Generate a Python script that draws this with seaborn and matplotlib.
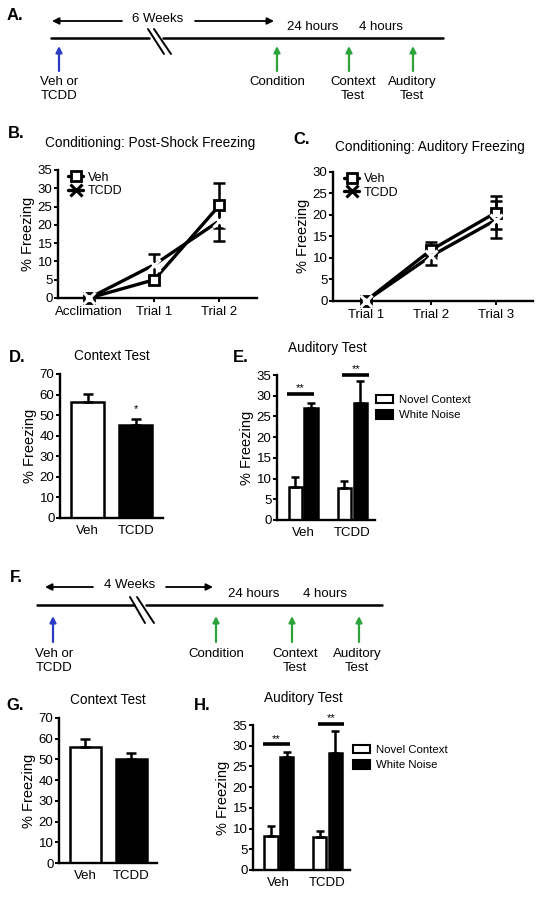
import matplotlib
matplotlib.use('Agg')
import matplotlib.pyplot as plt
from matplotlib.lines import Line2D
from matplotlib.patches import Patch
import seaborn as sns
import pandas as pd

W, H = 543, 900

# data
groups = ['Veh', 'TCDD']
contexts = ['Novel Context', 'White Noise']

shock_x = ['Acclimation', 'Trial 1', 'Trial 2']
shock_veh = [0.0, 5.0, 25.3]
shock_veh_err = [0.0, 0.8, 6.2]
shock_tcdd = [0.0, 9.1, 21.1]
shock_tcdd_err = [0.0, 3.0, 5.4]

tone_x = ['Trial 1', 'Trial 2', 'Trial 3']
tone_veh = [0.0, 11.8, 20.5]
tone_veh_err = [0.0, 1.9, 3.9]
tone_tcdd = [0.0, 10.4, 18.8]
tone_tcdd_err = [0.0, 2.1, 4.3]

context6 = [56.3, 45.3]
context6_err = [4.0, 3.0]
novel6 = [8.0, 7.8]
novel6_err = [2.5, 1.6]
noise6 = [27.1, 28.2]
noise6_err = [1.2, 5.3]

context4 = [56.2, 50.3]
context4_err = [3.9, 3.0]
novel4 = [8.1, 8.0]
novel4_err = [2.5, 1.5]
noise4 = [27.2, 28.2]
noise4_err = [1.2, 5.4]

event_labels = ['Veh or\nTCDD', 'Condition', 'Context\nTest', 'Auditory\nTest']

BLUE = '#2b3cc4'
GREEN = '#2ea33a'

sns.set_style('ticks', {'axes.edgecolor': 'black', 'xtick.color': 'black',
                        'ytick.color': 'black', 'text.color': 'black',
                        'axes.labelcolor': 'black'})
plt.rcParams['font.family'] = ['Liberation Sans', 'DejaVu Sans']

fig = plt.figure(figsize=(W / 100, H / 100), dpi=100)


def fx(x):
    return x / W


def fy(y):
    return 1 - y / H


def axes_px(x0, y0, x1, y1):
    return fig.add_axes([x0 / W, 1 - y1 / H, (x1 - x0) / W, (y1 - y0) / H])


def style(ax, ymax, step, xticks=True):
    ax.set_ylim(0, ymax)
    ax.set_yticks(range(0, ymax + 1, step))
    sns.despine(ax=ax)
    for s in ('left', 'bottom'):
        ax.spines[s].set_linewidth(1.7)
    ax.tick_params(axis='y', length=3, width=1.4, labelsize=9.5, pad=1)
    ax.tick_params(axis='x', length=3 if xticks else 0, width=1.4, labelsize=9.5,
                   pad=3 if xticks else 5)
    ax.set_ylabel('% Freezing', fontsize=10.5, labelpad=2)
    ax.set_xlabel('')


def line_panel(ax, cats, veh, veh_err, tcdd, tcdd_err):
    sns.lineplot(x=cats, y=veh, color='black', lw=2.4, marker='s', ms=7.5,
                 mfc='white', mec='black', mew=2, sort=False, errorbar=None,
                 clip_on=False, zorder=4, ax=ax)
    sns.lineplot(x=cats, y=tcdd, color='black', lw=2.4, marker='x', ms=8,
                 mew=2.2, sort=False, errorbar=None, clip_on=False, zorder=4, ax=ax)
    for vals, errs in ((veh, veh_err), (tcdd, tcdd_err)):
        ax.errorbar(cats, vals, yerr=errs, fmt='none', ecolor='black',
                    elinewidth=1.8, capsize=4, capthick=1.8, zorder=3)
    handles = [Line2D([], [], color='black', lw=2.4, marker='s', ms=7.5,
                      mfc='white', mec='black', mew=2),
               Line2D([], [], color='black', lw=2.4, marker='x', ms=8, mew=2.2)]
    return handles


def context_panel(ax, vals, errs):
    sns.barplot(x=groups, y=vals, hue=groups, palette=['white', 'black'],
                edgecolor='black', linewidth=1.8, width=0.68, legend=False, ax=ax)
    xs = [p.get_x() + p.get_width() / 2 for p in ax.patches]
    ax.errorbar(xs, vals, yerr=[[0] * len(errs), errs], fmt='none', ecolor='black',
                elinewidth=1.8, capsize=3.5, capthick=1.8, zorder=3)
    ax.set_xlim(-0.57, 1.56)
    return xs


def auditory_panel(ax, novel, novel_err, noise, noise_err, sig_y):
    df = pd.DataFrame({'group': groups * 2,
                       'context': [contexts[0]] * 2 + [contexts[1]] * 2,
                       'freezing': novel + noise})
    sns.barplot(data=df, x='group', y='freezing', hue='context', hue_order=contexts,
                palette=['white', 'black'], edgecolor='black', linewidth=1.8,
                width=0.64, gap=0.15, errorbar=None, legend=False, ax=ax)
    for cont, err in zip(ax.containers, (novel_err, noise_err)):
        xs = [b.get_x() + b.get_width() / 2 for b in cont]
        ys = [b.get_height() for b in cont]
        ax.errorbar(xs, ys, yerr=[[0] * len(err), err], fmt='none', ecolor='black',
                    elinewidth=1.8, capsize=3, capthick=1.8, zorder=3)
    for i, (y, off) in enumerate(zip(sig_y, (-0.05, 0.07))):
        ax.plot([i + off - 0.27, i + off + 0.27], [y, y], color='black', lw=2.6,
                clip_on=False, solid_capstyle='butt')
        ax.text(i + off, y + 0.2, '**', ha='center', va='bottom', fontsize=8)
    ax.set_xlim(-0.53, 1.46)
    handles = [Patch(facecolor='white', edgecolor='black', lw=1.5),
               Patch(facecolor='black', edgecolor='black', lw=1.5)]
    return handles


def timeline(ax, y, x0, x1, gap, brk, weeks, weeks_xy, left_arrow, right_arrow,
             hours_x, hours_y, arrow_xs, arrow_y, label_xs, label_y):
    ax.plot([x0, gap[0]], [y, y], color='black', lw=1.8)
    ax.plot([gap[1], x1], [y, y], color='black', lw=1.8)
    for (a, b), (c, d) in brk:
        ax.plot([a, c], [b, d], color='black', lw=1.4)
    ax.text(weeks_xy[0], weeks_xy[1], weeks, ha='center', va='center', fontsize=9.5)
    for (xa, xb) in (left_arrow, right_arrow):
        ax.annotate('', xy=(xb, weeks_xy[1] + 2), xytext=(xa, weeks_xy[1] + 2),
                    arrowprops=dict(arrowstyle='-|>', color='black', lw=1.3,
                                    mutation_scale=10, shrinkA=0, shrinkB=0))
    for hx, txt in zip(hours_x, ['24 hours', '4 hours']):
        ax.text(hx, hours_y, txt, ha='center', va='center', fontsize=9.5)
    for i, ax_x in enumerate(arrow_xs):
        ax.annotate('', xy=(ax_x, arrow_y[1]), xytext=(ax_x, arrow_y[0]),
                    arrowprops=dict(arrowstyle='-|>', color=BLUE if i == 0 else GREEN,
                                    lw=1.6, mutation_scale=9, shrinkA=0, shrinkB=0))
    for lx, lab in zip(label_xs, event_labels):
        ax.text(lx, label_y, lab, ha='center', va='top', fontsize=9.5, linespacing=1.25)


# overlay for diagrams
ov = fig.add_axes([0, 0, 1, 1], zorder=-1)
ov.set_xlim(0, W)
ov.set_ylim(H, 0)
ov.axis('off')

timeline(ov, 37.7, 51, 443, (149, 163),
         [((148, 29), (164, 54)), ((154, 29), (171, 54))],
         '6 Weeks', (158, 19), (122, 52), (195, 274),
         (313, 381), 27, [59, 277, 349, 413], (71, 46),
         [59, 277, 353, 412], 76)
timeline(ov, 605, 37, 382, (134, 146),
         [((130, 597), (145, 623)), ((137, 597), (154, 623))],
         '4 Weeks', (130, 585), (93, 45), (166, 213),
         (254, 325), 594, [53, 216, 292, 359], (642, 616),
         [54, 216, 295, 357], 648)

letters = [('A.', 15, 16), ('B.', 16, 133), ('C.', 302, 140), ('D.', 17, 357),
           ('E.', 241, 357), ('F.', 16, 577), ('G.', 15, 705), ('H.', 202, 705)]
for t, x, y in letters:
    fig.text(fx(x), fy(y), t, ha='center', va='center', fontsize=12, fontweight='bold')

titles = [('Conditioning: Post-Shock Freezing', 150, 143),
          ('Conditioning: Auditory Freezing', 430, 147),
          ('Context Test', 112, 356), ('Auditory Test', 327, 348),
          ('Context Test', 108, 700), ('Auditory Test', 303, 698)]
for t, x, y in titles:
    fig.text(fx(x), fy(y), t, ha='center', va='center', fontsize=9.8)

# B
axB = axes_px(58, 170, 257, 298)
hB = line_panel(axB, shock_x, shock_veh, shock_veh_err, shock_tcdd, shock_tcdd_err)
style(axB, 35, 5)
axB.set_xlim(-0.48, 2.58)
axB.legend(hB, groups, loc='center left', bbox_to_anchor=(fx(68), fy(184.5)),
           bbox_transform=fig.transFigure, frameon=False, fontsize=9,
           handlelength=1.2, handletextpad=0.4, labelspacing=0.15,
           borderpad=0, borderaxespad=0, numpoints=1)

# C
axC = axes_px(333, 171.7, 533, 300.7)
hC = line_panel(axC, tone_x, tone_veh, tone_veh_err, tone_tcdd, tone_tcdd_err)
style(axC, 30, 5)
axC.set_xlim(-0.51, 2.57)
axC.legend(hC, groups, loc='center left', bbox_to_anchor=(fx(344), fy(186)),
           bbox_transform=fig.transFigure, frameon=False, fontsize=9,
           handlelength=1.2, handletextpad=0.4, labelspacing=0.1,
           borderpad=0, borderaxespad=0, numpoints=1)

# D
axD = axes_px(60, 374, 163, 518)
xsD = context_panel(axD, context6, context6_err)
style(axD, 70, 10, xticks=False)
axD.text(xsD[1], 50.5, '*', ha='center', va='bottom', fontsize=8)

# E
axE = axes_px(277, 375, 375, 520)
hE = auditory_panel(axE, novel6, novel6_err, noise6, noise6_err, [30.4, 35.0])
style(axE, 35, 5, xticks=False)
axE.legend(hE, contexts, loc='center left', bbox_to_anchor=(fx(376), fy(407.5)),
           bbox_transform=fig.transFigure, frameon=False, fontsize=8.2,
           handlelength=1.5, handleheight=0.8, handletextpad=0.5,
           labelspacing=0.45, borderpad=0, borderaxespad=0)

# G
axG = axes_px(59, 718, 157, 863)
context_panel(axG, context4, context4_err)
style(axG, 70, 10, xticks=False)

# H
axH = axes_px(253, 725, 350, 870)
hH = auditory_panel(axH, novel4, novel4_err, noise4, noise4_err, [30.3, 35.2])
style(axH, 35, 5, xticks=False)
axH.legend(hH, contexts, loc='center left', bbox_to_anchor=(fx(353), fy(757.5)),
           bbox_transform=fig.transFigure, frameon=False, fontsize=8.2,
           handlelength=1.5, handleheight=0.8, handletextpad=0.5,
           labelspacing=0.45, borderpad=0, borderaxespad=0)

fig.savefig('out.png', dpi=100)
